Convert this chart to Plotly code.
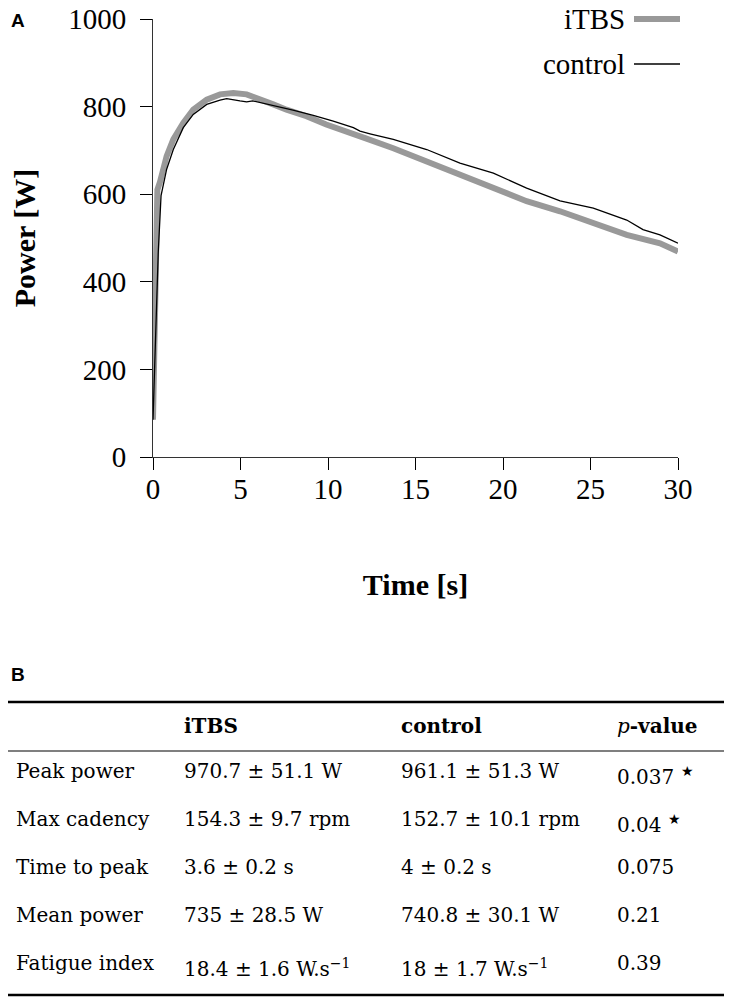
import plotly.graph_objects as go

# Panel A: power output over the 30 s sprint
itbs_time = [0, 0.15, 0.25, 0.4, 0.78, 1.16, 1.73, 2.3, 3.07, 3.83, 4.59, 5.35,
             6.1, 6.87, 7.63, 8.77, 9.9, 11.05, 11.83, 12.2, 13.73, 15.64, 17.54,
             19.45, 21.35, 23.26, 25.16, 27.07, 28.97, 30]
itbs_power = [85, 470, 610, 628, 687, 725, 763, 793, 816, 828, 831, 828,
              818, 805, 793, 778, 759, 744, 734, 727, 705, 675, 645,
              616, 584, 561, 534, 507, 488, 469]

control_time = [0, 0.3, 0.46, 0.78, 1.16, 1.73, 2.3, 3.07, 3.83, 4.21, 4.97, 5.35,
                5.7, 6.87, 8.0, 9.16, 10.3, 11.45, 11.83, 12.4, 13.73, 15.64,
                17.54, 19.45, 21.35, 23.26, 25.16, 27.07, 28.0, 28.97, 30]
control_power = [85, 467, 597, 657, 702, 752, 782, 805, 815, 818, 813, 811,
                 813, 803, 792, 780, 767, 752, 744, 738, 725, 702,
                 671, 648, 614, 585, 568, 541, 519, 507, 488]

x_ticks = [0, 5, 10, 15, 20, 25, 30]
y_ticks = [0, 200, 400, 600, 800, 1000]

# Panel B: summary table
header = ["", "<b>iTBS</b>", "<b>control</b>", "<i>p</i><b>-value</b>"]
row_labels = ["Peak power", "Max cadency", "Time to peak", "Mean power", "Fatigue index"]
itbs_values = ["970.7 ± 51.1 W", "154.3 ± 9.7 rpm", "3.6 ± 0.2 s", "735 ± 28.5 W",
               "18.4 ± 1.6 W.s<sup>−1</sup>"]
control_values = ["961.1 ± 51.3 W", "152.7 ± 10.1 rpm", "4 ± 0.2 s", "740.8 ± 30.1 W",
                  "18 ± 1.7 W.s<sup>−1</sup>"]
p_values = ["0.037 <sup>★</sup>", "0.04 <sup>★</sup>", "0.075", "0.21", "0.39"]

SERIF = "Liberation Serif"
TABLE_FONT = "DejaVu Serif"
GREY = "#999999"
W, H = 732, 1000
# the page body puts a margin around the plot div; shift coordinates to match
OFFSET_X, OFFSET_Y = 8, 6


def px(x):
    return (x - OFFSET_X) / W


def py(y):
    return 1 - (y - OFFSET_Y) / H


fig = go.Figure()
fig.add_trace(go.Scatter(x=itbs_time, y=itbs_power, mode="lines", name="iTBS",
                         line=dict(color=GREY, width=6)))
fig.add_trace(go.Scatter(x=control_time, y=control_power, mode="lines", name="control",
                         line=dict(color="black", width=1.3)))

fig.add_trace(go.Table(
    domain=dict(x=[px(8), px(726)], y=[py(997), py(704)]),
    columnwidth=[168, 217, 216, 117],
    header=dict(values=header, height=49, align="left",
                font=dict(family=TABLE_FONT, size=20, color="black"),
                fill_color="white", line=dict(color="white", width=0)),
    cells=dict(values=[row_labels, itbs_values, control_values, p_values],
               height=48, align="left",
               font=dict(family=TABLE_FONT, size=20, color="black"),
               fill_color="white", line=dict(color="white", width=0)),
))

axis_style = dict(showline=True, linecolor="#333", linewidth=1, ticks="outside",
                  ticklen=12, tickwidth=1.2, tickcolor="black", showgrid=False,
                  zeroline=False, automargin=False, ticklabeloverflow="allow",
                  tickfont=dict(family=SERIF, size=29, color="black"))

fig.update_layout(
    width=W, height=H, margin=dict(l=0, r=0, t=0, b=0),
    paper_bgcolor="white", plot_bgcolor="white", showlegend=False,
    xaxis=dict(domain=[px(153), px(678)], range=[0, 30], tickvals=x_ticks,
               ticklabelstandoff=-6,
               title=dict(text="<b>Time [s]</b>", standoff=70,
                          font=dict(family=SERIF, size=30, color="black")),
               **axis_style),
    yaxis=dict(domain=[py(455), py(17)], range=[0, 1000], tickvals=y_ticks,
               ticklabelstandoff=8,
               title=dict(text="<b>Power [W]</b>", standoff=34,
                          font=dict(family=SERIF, size=30, color="black")),
               **axis_style),
)

# legend drawn by hand: label on the left, line sample on the right
legend = [("iTBS", GREY, 6, 17), ("control", "black", 1.3, 62)]
for label, color, width, y in legend:
    fig.add_annotation(x=px(627), y=py(y), xref="paper", yref="paper", text=label,
                       showarrow=False, xanchor="right", yanchor="middle",
                       font=dict(family=SERIF, size=29, color="black"))
    fig.add_shape(type="line", xref="paper", yref="paper", x0=px(634), x1=px(680),
                  y0=py(y), y1=py(y), line=dict(color=color, width=width))

# panel letters
for letter, y in [("A", 18), ("B", 672)]:
    fig.add_annotation(x=px(9), y=py(y), xref="paper", yref="paper", text=f"<b>{letter}</b>",
                       showarrow=False, xanchor="left", yanchor="middle",
                       font=dict(family="Liberation Sans", size=19, color="black"))

# booktabs-style rules
for y, width in [(700, 2.5), (749, 1.2), (993, 2.5)]:
    fig.add_shape(type="line", xref="paper", yref="paper", x0=px(8), x1=px(726),
                  y0=py(y), y1=py(y), line=dict(color="black", width=width))

fig.write_html("out.html")
